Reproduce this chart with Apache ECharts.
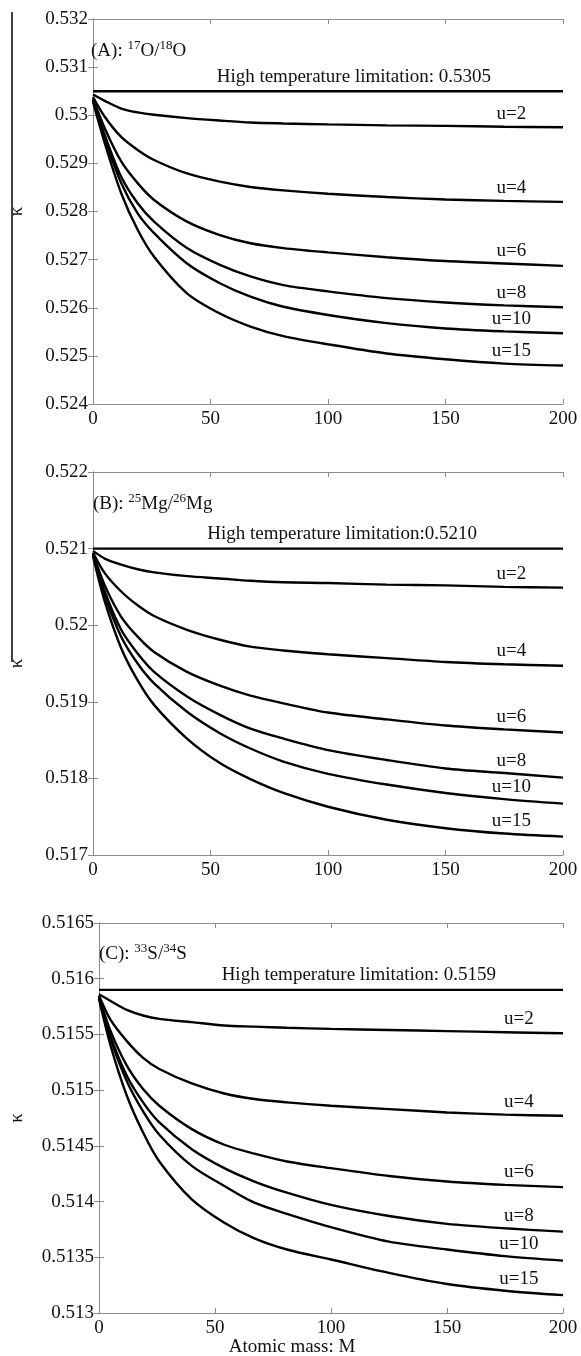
<!DOCTYPE html>
<html lang="en">
<head>
<meta charset="UTF-8">
<title>kappa vs atomic mass</title>
<script src="https://cdn.jsdelivr.net/npm/echarts/dist/echarts.min.js"></script>
<style>html,body{margin:0;padding:0;background:#fff}#main{width:581px;height:1356px}</style>
</head>
<body>
<div id="main"></div>
<script>
var FONT = 'Liberation Serif';

// x values (atomic mass M) shared by every curve
var massM = [0, 5, 12, 19, 26, 40, 54, 67, 81, 100, 125, 150, 175, 200];
var uNames = ['u=2', 'u=4', 'u=6', 'u=8', 'u=10', 'u=15'];

// (A) 17O/18O
var limitA = 0.5305;
var kappaA = [
    [0.53043, 0.53030, 0.53014, 0.53006, 0.53001, 0.52994, 0.52989, 0.52985, 0.52983, 0.52981, 0.52979, 0.52978, 0.52976, 0.52975],
    [0.53038, 0.52997, 0.52955, 0.52928, 0.52907, 0.52879, 0.52862, 0.52851, 0.52844, 0.52837, 0.52830, 0.52825, 0.52822, 0.52820],
    [0.53035, 0.52973, 0.52904, 0.52859, 0.52824, 0.52779, 0.52751, 0.52734, 0.52724, 0.52715, 0.52705, 0.52697, 0.52692, 0.52687],
    [0.53033, 0.52959, 0.52872, 0.52817, 0.52779, 0.52724, 0.52689, 0.52665, 0.52647, 0.52634, 0.52620, 0.52611, 0.52605, 0.52601],
    [0.53031, 0.52952, 0.52859, 0.52796, 0.52755, 0.52692, 0.52651, 0.52623, 0.52602, 0.52585, 0.52568, 0.52557, 0.52551, 0.52547],
    [0.53028, 0.52942, 0.52838, 0.52762, 0.52706, 0.52630, 0.52588, 0.52561, 0.52541, 0.52524, 0.52505, 0.52493, 0.52484, 0.52480]
];

// (B) 25Mg/26Mg
var limitB = 0.5210;
var kappaB = [
    [0.52097, 0.52087, 0.52079, 0.52073, 0.52069, 0.52064, 0.52061, 0.52058, 0.52056, 0.52055, 0.52053, 0.52052, 0.52050, 0.52049],
    [0.52095, 0.52068, 0.52044, 0.52026, 0.52012, 0.51994, 0.51981, 0.51972, 0.51967, 0.51962, 0.51957, 0.51952, 0.51949, 0.51947],
    [0.52094, 0.52052, 0.52011, 0.51985, 0.51965, 0.51939, 0.51921, 0.51908, 0.51898, 0.51886, 0.51877, 0.51869, 0.51864, 0.51860],
    [0.52093, 0.52044, 0.51994, 0.51963, 0.51939, 0.51907, 0.51883, 0.51865, 0.51852, 0.51837, 0.51824, 0.51813, 0.51807, 0.51801],
    [0.52092, 0.52039, 0.51985, 0.51950, 0.51924, 0.51887, 0.51859, 0.51839, 0.51822, 0.51806, 0.51792, 0.51781, 0.51773, 0.51767],
    [0.52090, 0.52031, 0.51970, 0.51928, 0.51896, 0.51852, 0.51820, 0.51799, 0.51781, 0.51763, 0.51746, 0.51735, 0.51728, 0.51724]
];

// (C) 33S/34S
var limitC = 0.5159;
var kappaC = [
    [0.51586, 0.51580, 0.51572, 0.51567, 0.51564, 0.51561, 0.51558, 0.51557, 0.51556, 0.51555, 0.51554, 0.51553, 0.51552, 0.51551],
    [0.51585, 0.51563, 0.51544, 0.51529, 0.51519, 0.51506, 0.51497, 0.51492, 0.51489, 0.51486, 0.51483, 0.51480, 0.51478, 0.51477],
    [0.51584, 0.51553, 0.51522, 0.51501, 0.51486, 0.51465, 0.51451, 0.51443, 0.51436, 0.51430, 0.51423, 0.51418, 0.51415, 0.51413],
    [0.51584, 0.51548, 0.51513, 0.51489, 0.51471, 0.51447, 0.51430, 0.51418, 0.51408, 0.51397, 0.51387, 0.51380, 0.51376, 0.51373],
    [0.51583, 0.51546, 0.51508, 0.51481, 0.51460, 0.51432, 0.51414, 0.51399, 0.51389, 0.51377, 0.51364, 0.51357, 0.51351, 0.51347],
    [0.51582, 0.51540, 0.51495, 0.51462, 0.51436, 0.51402, 0.51381, 0.51367, 0.51357, 0.51348, 0.51336, 0.51326, 0.51320, 0.51316]
];

var panels = [
    {grid: {left: 83, top: 19, right: 18, height: 385}, min: 0.524, max: 0.532, interval: 0.001,
     limit: limitA, curves: kappaA, limitText: 'High temperature limitation: 0.5305', limitM: 111, limitDy: -14,
     title: '(A): {s|17}O/{s|18}O', titlePos: [86, 34], kGap: 66, labelM: 178},
    {grid: {left: 83, top: 472, right: 18, height: 383}, min: 0.517, max: 0.522, interval: 0.001,
     limit: limitB, curves: kappaB, limitText: 'High temperature limitation:0.5210', limitM: 106, limitDy: -15,
     title: '(B): {s|25}Mg/{s|26}Mg', titlePos: [88, 487], kGap: 66, labelM: 178},
    {grid: {left: 88, top: 923, right: 18, height: 390}, min: 0.513, max: 0.5165, interval: 0.0005,
     limit: limitC, curves: kappaC, limitText: 'High temperature limitation: 0.5159', limitM: 112, limitDy: -15,
     title: '(C): {s|33}S/{s|34}S', titlePos: [94, 937], kGap: 72, labelM: 181}
];

function interp(vals, m) {
    for (var i = 0; i < massM.length - 1; i++) {
        if (m >= massM[i] && m <= massM[i + 1]) {
            var t = (m - massM[i]) / (massM[i + 1] - massM[i]);
            return vals[i] + t * (vals[i + 1] - vals[i]);
        }
    }
    return vals[vals.length - 1];
}

var gray = '#8c8c8c';
var textStyle = {fontFamily: FONT, fontSize: 19, color: '#111'};
var grids = [], xAxes = [], yAxes = [], series = [], titles = [];

panels.forEach(function (p, i) {
    grids.push(p.grid);
    var xa = {type: 'value', gridIndex: i, min: 0, max: 200, interval: 50,
        axisLine: {lineStyle: {color: gray, width: 1}},
        axisTick: {inside: true, length: 5, lineStyle: {color: gray}},
        splitLine: {show: false}};
    xAxes.push(Object.assign({}, xa, {position: 'bottom',
        axisLabel: {fontFamily: FONT, fontSize: 19, color: '#111', margin: 6}}));
    xAxes.push(Object.assign({}, xa, {position: 'top', axisLabel: {show: false}}));
    var ya = {type: 'value', gridIndex: i, min: p.min, max: p.max, interval: p.interval,
        axisLine: {show: true, lineStyle: {color: gray, width: 1}},
        axisTick: {show: true, inside: true, length: 5, lineStyle: {color: gray}},
        splitLine: {show: false}};
    yAxes.push(Object.assign({}, ya, {position: 'left', name: 'κ', nameLocation: 'middle',
        nameGap: p.kGap, nameRotate: 90, nameTextStyle: {fontFamily: FONT, fontSize: 19, color: '#111'},
        axisLabel: {fontFamily: FONT, fontSize: 19, color: '#111', margin: 5}}));
    yAxes.push(Object.assign({}, ya, {position: 'right', axisLabel: {show: false}}));

    titles.push({text: p.title, left: p.titlePos[0], top: p.titlePos[1],
        textStyle: {fontFamily: FONT, fontSize: 19, fontWeight: 'normal', color: '#111', lineHeight: 24,
            rich: {s: {fontFamily: FONT, fontSize: 13, verticalAlign: 'top', lineHeight: 24, color: '#111'}}}});

    // high-temperature limit line
    series.push({type: 'line', xAxisIndex: i * 2, yAxisIndex: i * 2, symbol: 'none', silent: true,
        lineStyle: {color: '#000', width: 2.4},
        data: [[0, p.limit], [200, p.limit]],
        markPoint: {symbol: 'rect', symbolSize: 1, itemStyle: {color: 'rgba(0,0,0,0)'}, silent: true,
            label: {show: true, position: 'inside', offset: [0, p.limitDy], formatter: p.limitText,
                fontFamily: FONT, fontSize: 19, color: '#111'},
            data: [{coord: [p.limitM, p.limit]}]}});

    p.curves.forEach(function (vals, k) {
        series.push({type: 'line', name: uNames[k], xAxisIndex: i * 2, yAxisIndex: i * 2,
            symbol: 'none', smooth: 0.3, silent: true,
            lineStyle: {color: '#000', width: 2.4},
            data: massM.map(function (m, j) { return [m, vals[j]]; }),
            markPoint: {symbol: 'rect', symbolSize: 1, itemStyle: {color: 'rgba(0,0,0,0)'}, silent: true,
                label: {show: true, position: 'inside', offset: [0, -13], formatter: uNames[k],
                    fontFamily: FONT, fontSize: 19, color: '#111'},
                data: [{coord: [p.labelM, interp(vals, p.labelM)]}]}});
    });
});

var chart = echarts.init(document.getElementById('main'), null, {renderer: 'canvas'});
chart.setOption({
    animation: false,
    backgroundColor: '#fff',
    textStyle: textStyle,
    title: titles,
    grid: grids,
    xAxis: xAxes,
    yAxis: yAxes,
    series: series,
    graphic: [
        {type: 'line', shape: {x1: 12, y1: 12, x2: 12, y2: 662}, style: {stroke: '#000', lineWidth: 1.5}},
        {type: 'text', x: 292, y: 1347, style: {text: 'Atomic mass: M', font: '19px "Liberation Serif"',
            fill: '#111', textAlign: 'center', textVerticalAlign: 'middle'}}
    ]
});
</script>
</body>
</html>
